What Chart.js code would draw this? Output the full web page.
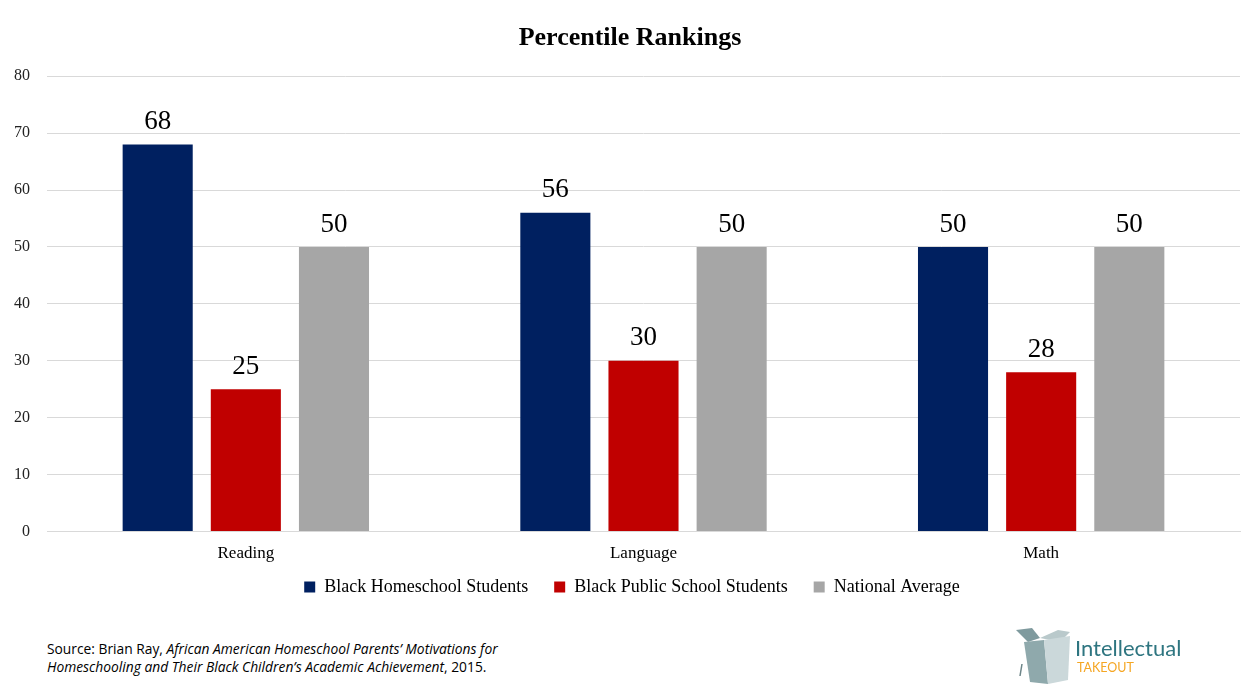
<!DOCTYPE html>
<html>
<head>
<meta charset="utf-8">
<script src="https://cdn.jsdelivr.net/npm/chart.js@4/dist/chart.umd.min.js"></script>
<style>
  html, body { margin: 0; padding: 0; background: #fff; width: 1259px; height: 699px; overflow: hidden; }
  #wrap { position: absolute; left: 0; top: 0; width: 1259px; height: 628px; }
  #source { position: absolute; left: 47px; top: 640px; font-family: "Open Sans", "Noto Sans", sans-serif; font-size: 13.8px; line-height: 18px; color: #000; }
  #logo { position: absolute; left: 1004px; top: 624px; width: 180px; height: 64px; }
</style>
</head>
<body>
<div id="wrap"><canvas id="c"></canvas></div>
<div id="source">Source: Brian Ray, <i>African American Homeschool Parents’ Motivations for<br>Homeschooling and Their Black Children’s Academic Achievement</i>, 2015.</div>
<svg id="logo" viewBox="0 0 180 64" xmlns="http://www.w3.org/2000/svg">
  <polygon points="12,6 28,4 36,14 24,18" fill="#7f9a9e"/>
  <polygon points="36,14 54,6 66,8 56,18" fill="#b9c9cb"/>
  <polygon points="20,18 40,16 44,60 26,58" fill="#8fa9ac"/>
  <polygon points="40,16 66,12 64,56 44,60" fill="#cbd8da"/>
  <line x1="18" y1="40" x2="16" y2="52" stroke="#6d8588" stroke-width="1.5"/>
  <text x="71" y="32" font-family="Lato, 'Open Sans', sans-serif" font-size="22" fill="#2e7580">Intellectual</text>
  <text x="73" y="48" font-family="Lato, 'Open Sans', sans-serif" font-size="12.5" fill="#f5a623">TAKEOUT</text>
</svg>
<script>
const categories = ["Reading", "Language", "Math"];
const seriesNames = ["Black Homeschool Students", "Black Public School Students", "National Average"];
const homeschool = [68, 56, 50];
const publicSchool = [25, 30, 28];
const nationalAvg = [50, 50, 50];
const yTicks = [0, 10, 20, 30, 40, 50, 60, 70, 80];

const colors = ["#002060", "#C00000", "#A6A6A6"];
const serif = "'Liberation Serif', 'DejaVu Serif', serif";

const valueLabels = {
  id: 'valueLabels',
  afterDatasetsDraw(chart) {
    const ctx = chart.ctx;
    ctx.save();
    ctx.font = "27px " + serif;
    ctx.fillStyle = "#000";
    ctx.textAlign = "center";
    ctx.textBaseline = "bottom";
    chart.data.datasets.forEach((ds, i) => {
      const meta = chart.getDatasetMeta(i);
      meta.data.forEach((bar, j) => {
        ctx.fillText(String(ds.data[j]), bar.x, bar.y - 9);
      });
    });
    ctx.restore();
  }
};

const blockShift = {
  id: 'blockShift',
  afterLayout(chart) {
    const lg = chart.legend;
    if (lg) { lg.top -= 16; lg.bottom -= 16; lg.left += 12; lg.right += 12; }
    const tb = chart.titleBlock;
    if (tb) { tb.left += 10; tb.right += 10; }
  }
};

new Chart(document.getElementById('c'), {
  type: 'bar',
  data: {
    labels: categories,
    datasets: [
      { label: seriesNames[0], data: homeschool, backgroundColor: colors[0] },
      { label: seriesNames[1], data: publicSchool, backgroundColor: colors[1] },
      { label: seriesNames[2], data: nationalAvg, backgroundColor: colors[2] }
    ]
  },
  options: {
    responsive: true,
    maintainAspectRatio: false,
    animation: false,
    layout: { padding: { left: 0, right: 19, top: 8, bottom: 6 } },
    datasets: { bar: { categoryPercentage: 0.665, barPercentage: 0.795 } },
    plugins: {
      title: {
        display: true,
        text: "Percentile Rankings",
        font: { family: serif, size: 26, weight: 'bold' },
        color: "#000",
        padding: { top: 15, bottom: 22 }
      },
      legend: {
        position: 'bottom',
        labels: {
          font: { family: serif, size: 18 },
          color: "#000",
          boxWidth: 11,
          boxHeight: 11,
          padding: 26
        }
      },
      tooltip: { enabled: false }
    },
    scales: {
      x: {
        grid: { display: false },
        border: { display: true, color: "#d9d9d9" },
        ticks: { font: { family: serif, size: 17 }, color: "#000", padding: 4 }
      },
      y: {
        min: 0, max: 80,
        afterBuildTicks(scale) { scale.ticks = yTicks.map(v => ({ value: v })); },
        afterFit(scale) { scale.width = 47; },
        grid: { color: "#d9d9d9", drawTicks: false },
        border: { display: false },
        ticks: { font: { family: serif, size: 16 }, color: "#222", padding: 17 }
      }
    }
  },
  plugins: [valueLabels, blockShift]
});
</script>
</body>
</html>
